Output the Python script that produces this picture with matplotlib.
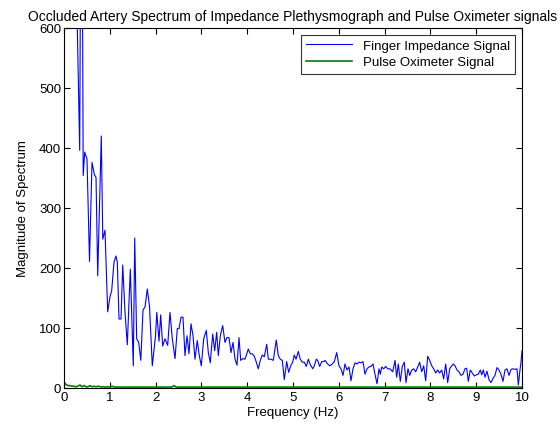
import numpy as np
import matplotlib
matplotlib.use("Agg")
import matplotlib.pyplot as plt

# finger impedance spectrum (vertices)
imp_freq = [0.0, 0.04, 0.09, 0.13, 0.17, 0.22, 0.26, 0.343, 0.382, 0.419, 0.452, 0.502,
            0.557, 0.611, 0.662, 0.699, 0.736, 0.814, 0.847, 0.895, 0.954, 1.004, 1.041,
            1.092, 1.135, 1.164, 1.201, 1.245, 1.282, 1.332, 1.382, 1.448, 1.513, 1.544,
            1.587, 1.631, 1.677, 1.725, 1.769, 1.819, 1.867, 1.928, 1.998, 2.026, 2.074,
            2.111, 2.155, 2.205, 2.264, 2.314, 2.365, 2.424, 2.474, 2.511, 2.555, 2.598,
            2.642, 2.686, 2.729, 2.773, 2.817, 2.860, 2.910, 2.954, 2.998, 3.050, 3.107,
            3.151, 3.194, 3.247, 3.290, 3.334, 3.369, 3.413, 3.465, 3.515, 3.559, 3.603,
            3.646, 3.690, 3.734, 3.777, 3.821, 3.858, 3.902, 3.952, 4.024, 4.068, 4.111,
            4.155, 4.199, 4.242, 4.286, 4.330, 4.373, 4.426, 4.461, 4.520, 4.570, 4.635,
            4.679, 4.723, 4.766, 4.810, 4.862, 4.906, 4.950, 4.993, 5.028, 5.066, 5.116,
            5.159, 5.203, 5.247, 5.290, 5.334, 5.378, 5.430, 5.465, 5.509, 5.539, 5.583,
            5.627, 5.670, 5.699, 5.757, 5.808, 5.858, 5.902, 5.954, 6.004, 6.048, 6.092,
            6.135, 6.179, 6.223, 6.266, 6.310, 6.354, 6.397, 6.441, 6.485, 6.528, 6.572,
            6.616, 6.659, 6.703, 6.747, 6.790, 6.834, 6.878, 6.906, 6.937, 6.980, 7.024,
            7.068, 7.118, 7.177, 7.227, 7.264, 7.299, 7.343, 7.387, 7.430, 7.467, 7.511,
            7.548, 7.592, 7.635, 7.679, 7.723, 7.766, 7.810, 7.854, 7.897, 7.941, 7.985,
            8.028, 8.072, 8.116, 8.159, 8.203, 8.247, 8.290, 8.334, 8.378, 8.421, 8.465,
            8.500, 8.537, 8.581, 8.624, 8.668, 8.712, 8.755, 8.792, 8.828, 8.871, 8.915,
            8.959, 9.002, 9.046, 9.090, 9.120, 9.155, 9.192, 9.236, 9.279, 9.323, 9.367,
            9.410, 9.454, 9.498, 9.541, 9.585, 9.629, 9.672, 9.716, 9.760, 9.803, 9.847,
            9.891, 9.920, 9.956, 9.978, 10.0]
imp_mag = [5200, 3900, 2500, 1600, 1100, 900, 720, 396, 1100, 354, 393, 382,
           211, 376, 356, 351, 187, 420, 248, 263, 127, 152, 162,
           210, 220, 210, 115, 115, 205, 126, 72, 198, 37, 250,
           82, 76, 46, 130, 135, 165, 136, 37, 87, 126, 78,
           122, 70, 82, 71, 126, 82, 49, 99, 99, 118, 118,
           54, 87, 57, 107, 87, 48, 79, 54, 37, 82, 96,
           59, 42, 90, 62, 93, 54, 87, 104, 76, 84, 84,
           59, 76, 48, 38, 84, 46, 49, 48, 65, 57, 57,
           53, 43, 32, 46, 55, 52, 73, 48, 48, 46, 80,
           54, 48, 46, 14, 44, 26, 37, 43, 55, 48, 61,
           48, 43, 43, 36, 48, 39, 32, 37, 48, 46, 36,
           44, 44, 46, 40, 37, 40, 44, 59, 37, 32, 21,
           40, 30, 35, 12, 32, 42, 40, 43, 42, 44, 23,
           32, 35, 36, 40, 23, 7, 32, 23, 35, 32, 36,
           32, 32, 27, 46, 18, 40, 11, 36, 43, 9, 32,
           21, 30, 32, 27, 35, 43, 27, 37, 12, 53, 46,
           37, 32, 25, 30, 25, 30, 15, 40, 9, 32, 37,
           40, 37, 30, 27, 21, 23, 32, 33, 11, 30, 25,
           20, 22, 23, 30, 22, 30, 18, 28, 14, 9, 16,
           21, 34, 30, 23, 11, 30, 32, 21, 31, 32, 31,
           32, 5, 30, 43, 62]

# pulse oximeter spectrum
ox_freq = [0, 0.04, 0.09, 0.13, 0.17, 0.22, 0.26, 0.30, 0.35, 0.39, 0.44, 0.48, 0.52,
           0.57, 0.61, 0.66, 0.70, 0.75, 0.80, 0.85, 0.90, 0.95, 1.00, 1.05, 1.10, 1.20,
           1.5, 2.0, 2.35, 2.40, 2.45, 2.5, 3, 4, 5, 6, 7, 8, 9, 10]
ox_mag = [10, 6, 4, 4, 3, 3, 2, 3, 5, 2, 4, 2, 2,
          4, 2, 3, 2, 3, 2, 2, 1.5, 2, 1.5, 3, 1.5, 1.5,
          1.5, 1.5, 1.5, 4, 1.5, 1.5, 1.5, 1.5, 1.5, 1.5, 1.5, 1.5, 1.5, 1.5]

plt.rcParams["font.family"] = ["Liberation Sans", "DejaVu Sans"]
plt.rcParams["font.size"] = 9.5

fig = plt.figure(figsize=(5.6, 4.31), dpi=100)
ax = fig.add_axes([64/560, 1-389/431, (522-64)/560, (389-29)/431])

ax.plot(imp_freq, imp_mag, color="#0000ff", lw=0.8, label="Finger Impedance Signal")
ax.plot(ox_freq, ox_mag, color="#008000", lw=1.2, label="Pulse Oximeter Signal")

ax.set_xlim(0, 10)
ax.set_ylim(0, 600)
ax.set_xticks(range(0, 11))
ax.set_yticks(range(0, 601, 100))
ax.tick_params(direction="in", top=True, right=True, length=4, width=0.8, pad=2)
for s in ax.spines.values():
    s.set_linewidth(0.8)

ax.set_title("Occluded Artery Spectrum of Impedance Plethysmograph and Pulse Oximeter signals",
             fontsize=10, pad=6)
ax.set_xlabel("Frequency (Hz)", labelpad=2)
ax.set_ylabel("Magnitude of Spectrum", labelpad=7)

leg = ax.legend(loc="upper right", frameon=True, fancybox=False, edgecolor="black",
                borderaxespad=0.5, handlelength=3.5, borderpad=0.4, labelspacing=0.3)
leg.get_frame().set_linewidth(0.8)

fig.savefig("out.png", dpi=100)
